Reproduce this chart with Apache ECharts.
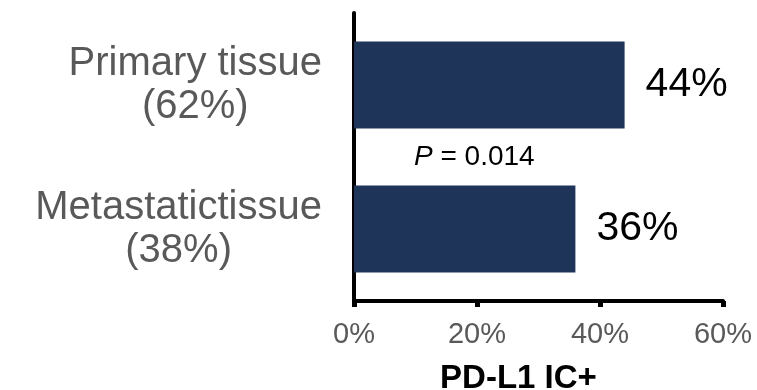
<!DOCTYPE html>
<html>
<head>
<meta charset="utf-8">
<script src="https://cdn.jsdelivr.net/npm/echarts@6/dist/echarts.min.js"></script>
<style>
  html, body { margin: 0; padding: 0; background: #ffffff; }
  #chart { width: 757px; height: 390px; }
</style>
</head>
<body>
<div id="chart"></div>
<script>
// Tissue groups (share of samples) and PD-L1 IC+ rate per group
const categories = ['Primary tissue', 'Metastatictissue'];
const groupShares = ['(62%)', '(38%)'];
const positiveRates = [44, 36];
const xTicks = [0, 20, 40, 60];
const pValueText = '0.014';

const FONT = 'Arial, "Liberation Sans", Helvetica, sans-serif';

const chart = echarts.init(document.getElementById('chart'), null, { renderer: 'canvas' });

chart.setOption({
  animation: false,
  backgroundColor: '#ffffff',
  grid: { left: 354, right: 34, top: 13, bottom: 89, containLabel: false, outerBoundsMode: 'none' },
  xAxis: {
    type: 'value',
    min: xTicks[0],
    max: xTicks[xTicks.length - 1],
    interval: xTicks[1] - xTicks[0],
    name: 'PD-L1 IC+',
    nameLocation: 'middle',
    nameGap: 61,
    nameTextStyle: {
      fontFamily: FONT, fontSize: 33, fontWeight: 'bold', color: '#000000',
      padding: [0, 40, 0, 0]
    },
    axisLine: { show: true, onZero: false, lineStyle: { color: '#000000', width: 4 } },
    axisTick: { show: true, length: 6, lineStyle: { color: '#000000', width: 5 } },
    splitLine: { show: false },
    axisLabel: {
      formatter: '{value}%',
      fontFamily: FONT, fontSize: 29, color: '#595959', margin: 19
    }
  },
  yAxis: {
    type: 'category',
    data: categories,
    inverse: true,
    axisLine: { show: true, lineStyle: { color: '#000000', width: 4 } },
    axisTick: { show: false },
    axisLabel: {
      margin: 32,
      align: 'right',
      formatter: function (value, idx) {
        return '{c|' + value + '}\n{c|' + groupShares[idx] + '}';
      },
      rich: {
        c: {
          align: 'center', fontFamily: FONT, fontSize: 40,
          color: '#595959', lineHeight: 43
        }
      }
    }
  },
  series: [{
    type: 'bar',
    data: positiveRates,
    barWidth: 87,
    itemStyle: { color: '#1E3459' },
    label: {
      show: true,
      position: 'right',
      distance: 21,
      formatter: '{c}%',
      fontFamily: FONT, fontSize: 41, color: '#000000'
    }
  }],
  graphic: [{
    type: 'text',
    left: 414,
    top: 143,
    style: {
      text: '{i|P}{n| = ' + pValueText + '}',
      rich: {
        i: { fontFamily: FONT, fontSize: 28, fontStyle: 'italic', fill: '#000000' },
        n: { fontFamily: FONT, fontSize: 28, fill: '#000000' }
      }
    }
  }]
});
</script>
</body>
</html>
